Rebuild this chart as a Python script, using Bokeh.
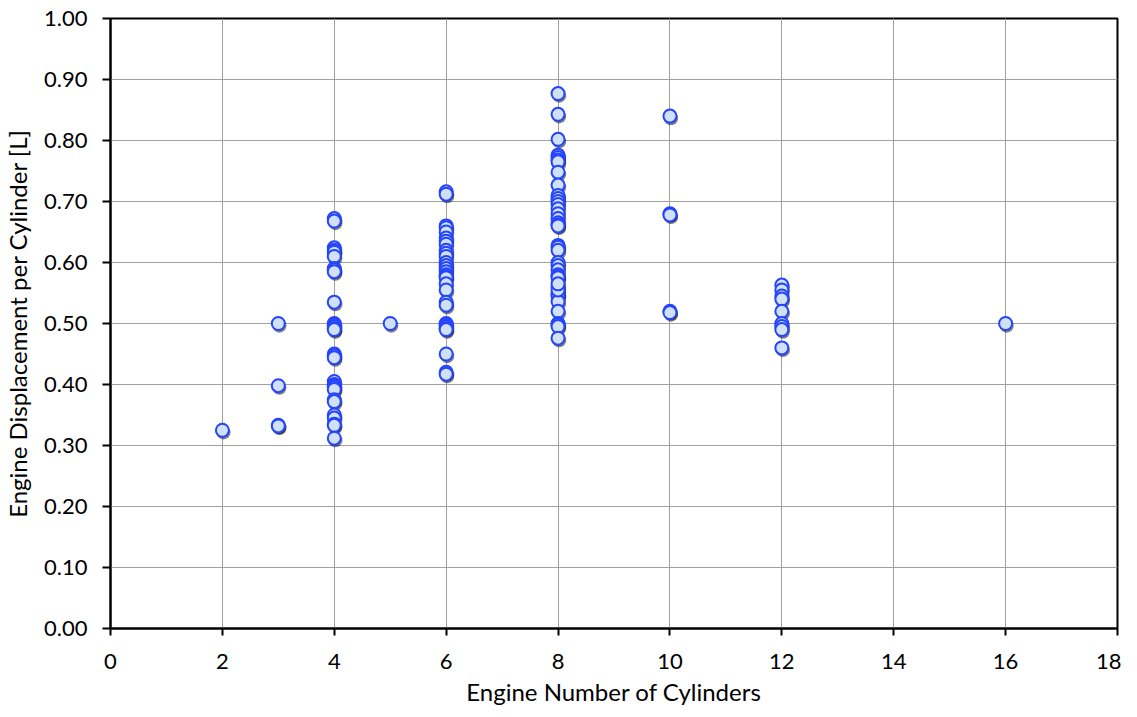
from bokeh.plotting import figure
from bokeh.models import ColumnDataSource, FixedTicker, Range1d, CustomJSTickFormatter
from bokeh.transform import dodge
from bokeh.embed import file_html
from bokeh.resources import INLINE

cyl_2 = [2]
disp_2 = [0.325]
cyl_3 = [3, 3, 3, 3]
disp_3 = [0.50, 0.398, 0.333, 0.332]
cyl_4 = [4] * 30
disp_4 = [0.672, 0.668, 0.624, 0.62, 0.617, 0.61, 0.59, 0.588, 0.585, 0.535,
          0.50, 0.498, 0.495, 0.492, 0.49, 0.45, 0.447, 0.444, 0.405, 0.40,
          0.398, 0.395, 0.392, 0.375, 0.372, 0.35, 0.345, 0.335, 0.333, 0.312]
cyl_5 = [5]
disp_5 = [0.50]
cyl_6 = [6] * 30
disp_6 = [0.716, 0.712, 0.66, 0.657, 0.65, 0.64, 0.635, 0.63, 0.62, 0.615,
          0.61, 0.60, 0.595, 0.59, 0.585, 0.58, 0.577, 0.575, 0.565, 0.555,
          0.535, 0.53, 0.50, 0.498, 0.495, 0.492, 0.49, 0.45, 0.42, 0.417]
cyl_8 = [8] * 40
disp_8 = [0.877, 0.843, 0.802, 0.776, 0.772, 0.768, 0.765, 0.748, 0.727, 0.71,
          0.705, 0.70, 0.695, 0.688, 0.68, 0.672, 0.665, 0.662, 0.66, 0.628,
          0.625, 0.62, 0.60, 0.595, 0.588, 0.58, 0.577, 0.575, 0.56, 0.55,
          0.548, 0.545, 0.536, 0.52, 0.50, 0.498, 0.495, 0.476, 0.555, 0.565]
cyl_10 = [10] * 5
disp_10 = [0.84, 0.68, 0.678, 0.52, 0.518]
cyl_12 = [12] * 9
disp_12 = [0.563, 0.555, 0.545, 0.54, 0.52, 0.50, 0.495, 0.49, 0.46]
cyl_16 = [16]
disp_16 = [0.50]

x_ticks = [0, 2, 4, 6, 8, 10, 12, 14, 16, 18]
y_ticks = [0.0, 0.1, 0.2, 0.3, 0.4, 0.5, 0.6, 0.7, 0.8, 0.9, 1.0]

cyl = cyl_2 + cyl_3 + cyl_4 + cyl_5 + cyl_6 + cyl_8 + cyl_10 + cyl_12 + cyl_16
disp = disp_2 + disp_3 + disp_4 + disp_5 + disp_6 + disp_8 + disp_10 + disp_12 + disp_16

src = ColumnDataSource(dict(x=cyl, y=disp))

FONT = "Lato"

p = figure(width=1121, height=708, output_backend="svg", toolbar_location=None,
           x_range=Range1d(0, 18), y_range=Range1d(0, 1.0),
           min_border_left=110, min_border_right=4, min_border_top=18, min_border_bottom=80)

p.outline_line_color = "black"
p.outline_line_width = 2

# shadows
p.scatter(x=dodge("x", 0.02, range=p.x_range), y=dodge("y", -0.0035, range=p.y_range),
          source=src, size=14, fill_color="black", fill_alpha=0.5, line_color=None)
p.scatter(x="x", y="y", source=src, size=13, fill_color="#cfe0f7",
          line_color="#2444ff", line_width=2)

p.xaxis.ticker = FixedTicker(ticks=x_ticks)
p.yaxis.ticker = FixedTicker(ticks=y_ticks)
p.yaxis.formatter = CustomJSTickFormatter(code="return tick.toFixed(2);")

for ax in (p.xaxis[0], p.yaxis[0]):
    ax.axis_line_color = "black"
    ax.axis_line_width = 2
    ax.major_tick_line_color = "black"
    ax.major_tick_line_width = 2
    ax.major_tick_in = 0
    ax.minor_tick_line_color = None
    ax.major_label_text_font = FONT
    ax.major_label_text_font_size = "22px"
    ax.major_label_text_color = "black"
    ax.axis_label_text_font = FONT
    ax.axis_label_text_font_size = "24px"
    ax.axis_label_text_font_style = "normal"
    ax.axis_label_text_color = "black"

p.xaxis.major_tick_out = 7
p.yaxis.major_tick_out = 8
p.xaxis.axis_label = "Engine Number of Cylinders"
p.yaxis.axis_label = "Engine Displacement per Cylinder [L]"
p.xaxis.major_label_standoff = 18
p.yaxis.major_label_standoff = 15
p.xaxis.axis_label_standoff = 5
p.yaxis.axis_label_standoff = 9

p.grid.grid_line_color = "#a0a0a0"
p.grid.grid_line_width = 1

open("out.html", "w").write(file_html(p, INLINE))
